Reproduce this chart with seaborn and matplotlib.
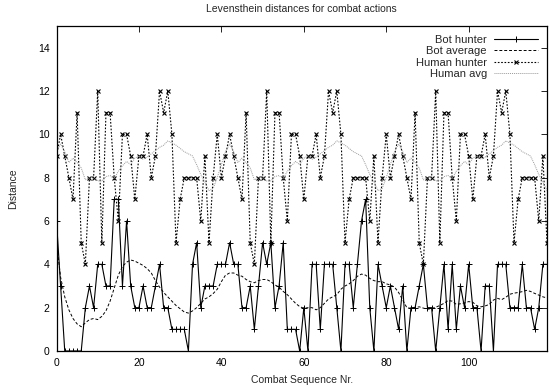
import matplotlib
matplotlib.use("Agg")
import matplotlib.pyplot as plt
import seaborn as sns
import numpy as np
import pandas as pd

# ---- data ----
seq = list(range(120))

bot_hunter = [6, 3, 0, 0, 0, 0, 0, 2, 3, 2,
              4, 4, 3, 3, 7, 7, 3, 6, 3, 2,
              2, 3, 2, 2, 3, 4, 2, 2, 1, 1,
              1, 1, 0, 4, 5, 2, 3, 3, 3, 4,
              4, 4, 5, 4, 4, 2, 2, 3, 1, 3,
              5, 4, 5, 2, 3, 5, 1, 1, 1, 0,
              2, 0, 4, 4, 1, 4, 4, 4, 2, 0,
              4, 4, 2, 4, 6, 7, 2, 0, 4, 3,
              2, 3, 2, 1, 3, 0, 2, 2, 3, 4,
              2, 2, 0, 2, 4, 1, 4, 1, 3, 2,
              4, 2, 2, 0, 3, 3, 0, 4, 4, 4,
              2, 2, 2, 4, 2, 2, 1, 2, 4, 4]

bot_average = [5.0, 3.4, 2.5, 1.9, 1.5, 1.25, 1.12, 1.3, 1.45, 1.5,
               1.45, 1.6, 1.85, 2.3, 2.9, 3.5, 3.9, 4.1, 4.2, 4.15,
               4.05, 3.95, 3.8, 3.6, 3.25, 2.95, 2.7, 2.5, 2.3, 2.1,
               1.95, 1.8, 1.75, 1.85, 2.0, 2.2, 2.4, 2.5, 2.65, 2.85,
               3.2, 3.5, 3.6, 3.6, 3.5, 3.45, 3.3, 3.2, 3.15, 3.25,
               3.3, 3.3, 3.2, 3.05, 2.95, 2.75, 2.6, 2.4, 2.2, 2.05,
               1.97, 2.0, 2.0, 1.9, 2.0, 2.2, 2.4, 2.5, 2.6, 2.85,
               3.0, 3.1, 3.25, 3.45, 3.55, 3.5, 3.35, 3.25, 3.2, 3.2,
               3.1, 3.05, 2.95, 2.7, 2.35, 2.0, 1.97, 2.0, 2.04, 1.98,
               1.93, 1.96, 2.02, 2.1, 2.2, 2.33, 2.3, 2.15, 2.18, 2.22,
               2.28, 2.25, 2.08, 2.04, 2.08, 2.15, 2.35, 2.43, 2.37, 2.48,
               2.62, 2.67, 2.7, 2.74, 2.8, 2.75, 2.66, 2.58, 2.5, 2.45]

human_hunter = [9, 10, 9, 8, 7, 11, 5, 4, 8, 8,
                12, 5, 11, 11, 8, 6, 10, 10, 9, 7,
                9, 9, 10, 8, 9, 12, 11, 12, 10, 5,
                7, 8, 8, 8, 8, 6, 9, 5, 8, 10,
                8, 9, 10, 9, 8, 7, 11, 5, 4, 8,
                8, 12, 5, 11, 11, 8, 6, 10, 10, 9,
                7, 9, 9, 10, 8, 9, 12, 11, 12, 10,
                5, 7, 8, 8, 8, 8, 6, 9, 5, 8,
                10, 8, 9, 10, 9, 8, 7, 11, 5, 4,
                8, 8, 12, 5, 11, 11, 8, 6, 10, 10,
                9, 7, 9, 9, 10, 8, 9, 12, 11, 12,
                10, 5, 7, 8, 8, 8, 8, 6, 9, 5]

human_avg = [9.2, 9.55, 9.2, 8.7, 8.9, 8.7, 8.45, 7.9, 8.0, 8.05,
             7.85, 7.85, 8.05, 8.1, 7.95, 8.3, 8.55, 8.75, 8.6, 8.9,
             9.0, 8.85, 8.95, 9.1, 9.25, 9.4, 9.5, 9.7, 9.6, 9.5,
             9.35, 9.2, 9.1, 9.0, 8.6, 8.15, 7.8, 7.4, 7.5, 8.0,
             8.6, 9.2, 9.55, 9.2, 8.7, 8.9, 8.7, 8.45, 7.9, 8.0,
             8.05, 7.85, 7.85, 8.05, 8.1, 7.95, 8.3, 8.55, 8.75, 8.6,
             8.9, 9.0, 8.85, 8.95, 9.1, 9.25, 9.4, 9.5, 9.7, 9.6,
             9.5, 9.35, 9.2, 9.1, 9.0, 8.6, 8.15, 7.8, 7.4, 7.5,
             8.0, 8.6, 9.2, 9.55, 9.2, 8.7, 8.9, 8.7, 8.45, 7.9,
             8.0, 8.05, 7.85, 7.85, 8.05, 8.1, 7.95, 8.3, 8.55, 8.75,
             8.6, 8.9, 9.0, 8.85, 8.95, 9.1, 9.25, 9.4, 9.5, 9.7,
             9.6, 9.5, 9.35, 9.2, 9.1, 9.0, 8.6, 8.15, 7.8, 7.4]

x_ticks = [0, 20, 40, 60, 80, 100]
y_ticks = [0, 2, 4, 6, 8, 10, 12, 14]

title = "Levensthein distances for combat actions"
xlabel = "Combat Sequence Nr."
ylabel = "Distance"

# ---- style ----
sns.set_style("white")
plt.rcParams['font.family'] = ['Liberation Sans', 'DejaVu Sans']
FS = 7.5

fig = plt.figure(figsize=(5.49, 3.87), dpi=100)
ax = fig.add_axes([56.5 / 549, 1 - 351 / 387, (547 - 56.5) / 549, (351 - 26) / 387])

sns.lineplot(x=seq, y=bot_hunter, ax=ax, color="black", linewidth=0.8,
             marker="+", markersize=4, markeredgewidth=0.7, markeredgecolor="black",
             label="Bot hunter", estimator=None)
sns.lineplot(x=seq, y=bot_average, ax=ax, color="black", linewidth=0.7,
             linestyle=(0, (3, 2)), label="Bot average", estimator=None)
sns.lineplot(x=seq, y=human_hunter, ax=ax, color="black", linewidth=0.8,
             linestyle=(0, (1.5, 1.5)), marker="x", markersize=3.5,
             markeredgewidth=0.8, markeredgecolor="black",
             label="Human hunter", estimator=None)
sns.lineplot(x=seq, y=human_avg, ax=ax, color="#9a9a9a", linewidth=0.7,
             linestyle=(0, (1, 1)), label="Human avg", estimator=None)

ax.set_xlim(0, 119)
ax.set_ylim(0, 15)
ax.set_xticks(x_ticks)
ax.set_yticks(y_ticks)
ax.tick_params(direction="in", length=4, width=0.6, top=True, right=True,
               labelsize=FS, pad=5, colors="black")
for s in ax.spines.values():
    s.set_linewidth(0.9)
    s.set_color("black")

ax.set_title(title, fontsize=FS, pad=10)
ax.set_xlabel(xlabel, fontsize=FS, labelpad=5)
ax.set_ylabel(ylabel, fontsize=FS, labelpad=14)

leg = ax.legend(loc="upper right", frameon=False, markerfirst=False,
                fontsize=FS + 0.5, handlelength=4.0, handletextpad=0.6,
                labelspacing=0.12, borderaxespad=0.4)
try:
    for col in leg._legend_box.get_children()[1].get_children():
        col.align = "right"
except Exception:
    pass

fig.savefig("out.png", dpi=100)
